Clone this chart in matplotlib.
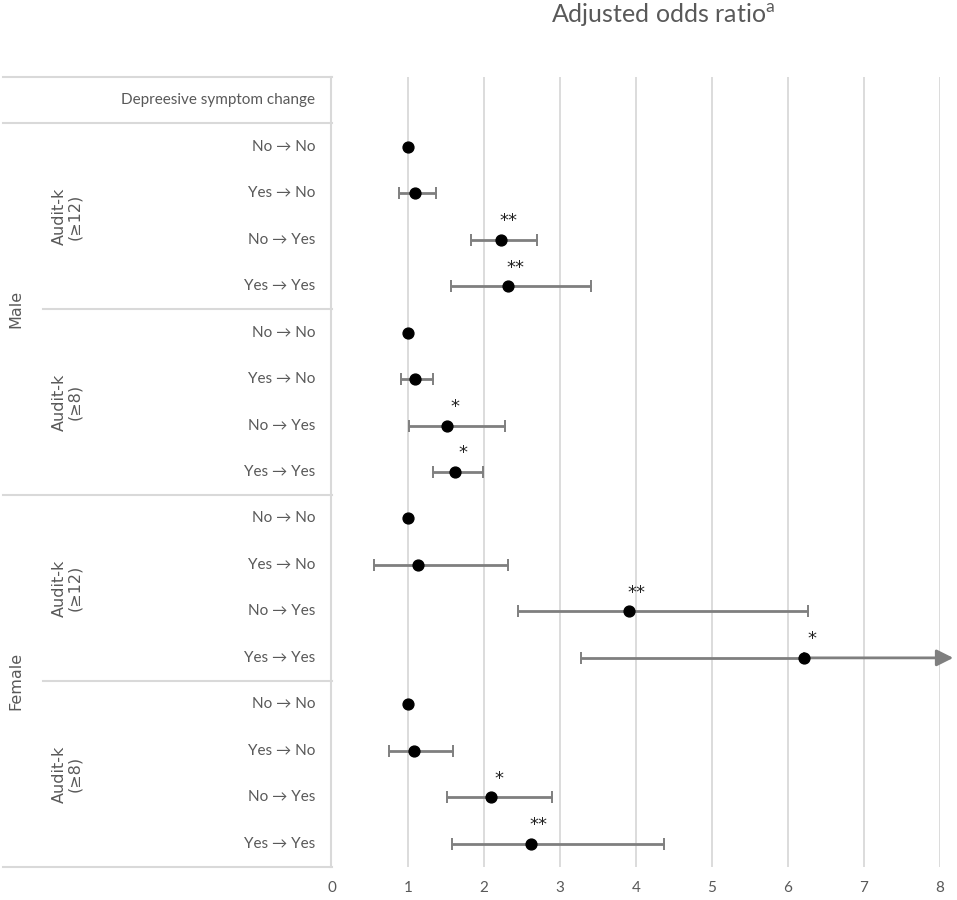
import numpy as np
import matplotlib
matplotlib.use('Agg')
import matplotlib.pyplot as plt

# ---------------- data ----------------
sexes = ['Male', 'Female']
audit_groups = ['Audit-k\n(≥12)', 'Audit-k\n(≥8)']
changes = ['No → No', 'Yes → No', 'No → Yes', 'Yes → Yes']
header = 'Depreesive symptom change'

# odds ratio, lower CI, upper CI, significance (order: M>=12, M>=8, F>=12, F>=8)
odds_m12 = [1.00, 1.09, 2.22, 2.31]
lo_m12 = [np.nan, 0.88, 1.83, 1.56]
hi_m12 = [np.nan, 1.36, 2.70, 3.41]
sig_m12 = ['', '', '**', '**']

odds_m8 = [1.00, 1.09, 1.51, 1.62]
lo_m8 = [np.nan, 0.90, 1.01, 1.32]
hi_m8 = [np.nan, 1.33, 2.28, 1.99]
sig_m8 = ['', '', '*', '*']

odds_f12 = [1.00, 1.13, 3.91, 6.22]
lo_f12 = [np.nan, 0.55, 2.45, 3.27]
hi_f12 = [np.nan, 2.32, 6.26, np.inf]   # upper bound beyond axis
sig_f12 = ['', '', '**', '*']

odds_f8 = [1.00, 1.08, 2.09, 2.62]
lo_f8 = [np.nan, 0.74, 1.51, 1.58]
hi_f8 = [np.nan, 1.59, 2.89, 4.37]
sig_f8 = ['', '', '*', '**']

xticks = [0, 1, 2, 3, 4, 5, 6, 7, 8]
title = r'Adjusted odds ratio$^{\mathrm{a}}$'

odds = np.array(odds_m12 + odds_m8 + odds_f12 + odds_f8)
lo = np.array(lo_m12 + lo_m8 + lo_f12 + lo_f8)
hi = np.array(hi_m12 + hi_m8 + hi_f12 + hi_f8)
sig = sig_m12 + sig_m8 + sig_f12 + sig_f8

# ---------------- style ----------------
plt.rcParams['font.family'] = ['Lato', 'DejaVu Sans']
plt.rcParams['mathtext.fontset'] = 'custom'
plt.rcParams['mathtext.rm'] = 'Lato'
txt_col = '#595959'
line_col = '#d9d9d9'
err_col = '#7f7f7f'

W, H = 957, 900
fig = plt.figure(figsize=(W / 100, H / 100), dpi=100)

x0_px, x8_px = 332.4, 939.6
top_px, bot_px = 77, 867
ax = fig.add_axes([x0_px / W, 1 - bot_px / H, (x8_px - x0_px) / W, (bot_px - top_px) / H])
tab = fig.add_axes([0, 1 - bot_px / H, x0_px / W, (bot_px - top_px) / H])

nrows = 1 + len(odds)
yc = np.arange(1, nrows) + 0.5

# ---------------- plot area ----------------
ax.set_xlim(0, 8)
ax.set_ylim(nrows, 0)
for s in ax.spines.values():
    s.set_visible(False)
ax.set_yticks([])
ax.set_xticks(xticks)
ax.set_xticklabels([str(t) for t in xticks], color=txt_col, fontsize=11)
ax.tick_params(axis='x', length=0, pad=10)
for t in xticks[1:]:
    ax.axvline(t, color=line_col, lw=1.3, zorder=0)

finite = np.isfinite(lo) & np.isfinite(hi)
ax.errorbar(odds[finite], yc[finite],
            xerr=[odds[finite] - lo[finite], hi[finite] - odds[finite]],
            fmt='none', ecolor=err_col, elinewidth=2, capsize=4.5, capthick=1.4, zorder=2)

# open-ended interval -> arrow
for i in np.where(np.isinf(hi))[0]:
    ax.errorbar([odds[i]], [yc[i]], xerr=[[odds[i] - lo[i]], [0]], fmt='none',
                ecolor=err_col, elinewidth=2, capsize=4.5, capthick=1.4, zorder=2)
    ax.annotate('', xy=(8.18, yc[i]), xytext=(odds[i], yc[i]), annotation_clip=False,
                arrowprops=dict(arrowstyle='-|>,head_length=1.0,head_width=0.5',
                                color=err_col, lw=2, shrinkA=0, shrinkB=0), zorder=2)

ax.plot(odds, yc, 'o', color='black', ms=7.8, zorder=3)

for i, s in enumerate(sig):
    if s:
        ax.text(odds[i] + 0.1, yc[i] - 0.40, s, ha='center', va='center',
                fontsize=13, color='#222222', family='DejaVu Sans')

# ---------------- table on the left ----------------
tab.set_xlim(0, x0_px)
tab.set_ylim(nrows, 0)
tab.axis('off')

def hline(y, x1):
    tab.plot([x1, x0_px], [y, y], color=line_col, lw=1.5, clip_on=False)

hline(0, 3)
hline(1, 3)
hline(5, 43)
hline(9, 3)
hline(13, 43)
hline(17, 3)
tab.plot([x0_px - 1, x0_px - 1], [0, nrows], color=line_col, lw=1.5, clip_on=False)

tab.text(315, 0.5, header, ha='right', va='center', fontsize=11, color=txt_col)
for k in range(len(odds)):
    tab.text(315, yc[k], changes[k % 4], ha='right', va='center', fontsize=11, color=txt_col)

for g in range(4):
    ymid = 1 + g * 4 + 2
    tab.text(67, ymid, audit_groups[g % 2], rotation=90, ha='center', va='center',
             fontsize=11.5, color=txt_col, family='DejaVu Sans', linespacing=1.0)
for s_i, sx in enumerate(sexes):
    ymid = 1 + s_i * 8 + 4
    tab.text(16, ymid, sx, rotation=90, ha='center', va='center',
             fontsize=11.5, color=txt_col, family='DejaVu Sans')

fig.text(663 / W, 1 - 22 / H, title, ha='center', va='baseline',
         fontsize=18, color=txt_col)

fig.savefig('out.png', dpi=100)
